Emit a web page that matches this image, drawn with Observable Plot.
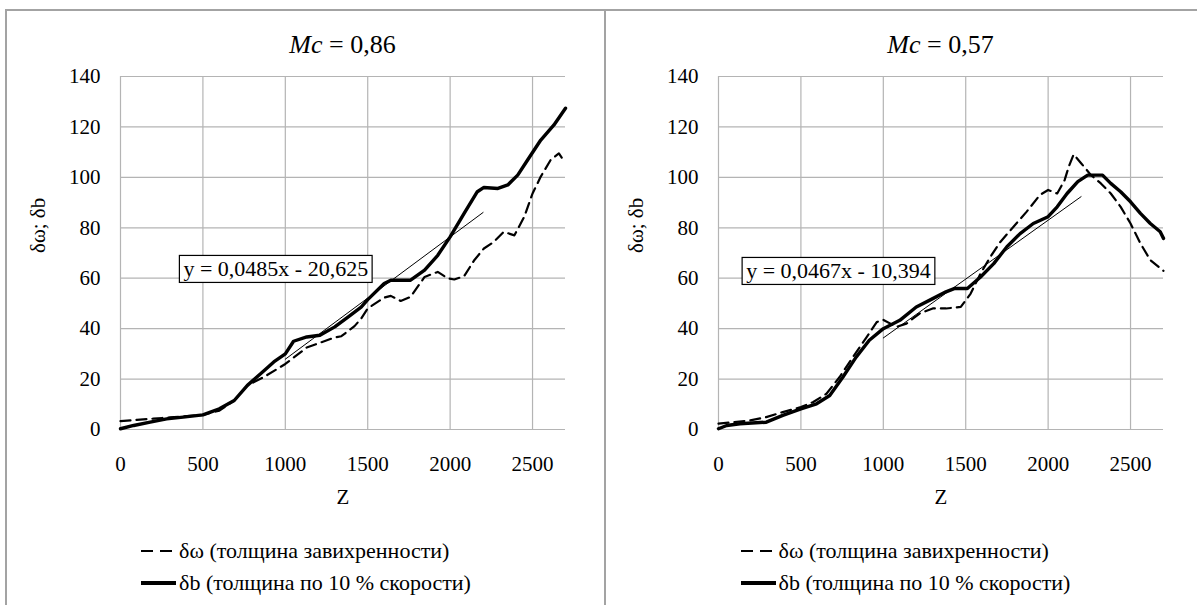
<!DOCTYPE html>
<html>
<head>
<meta charset="utf-8">
<script src="https://cdn.jsdelivr.net/npm/d3@7"></script>
<script src="https://cdn.jsdelivr.net/npm/@observablehq/plot@0.6"></script>
<style>
  body { margin: 0; background: #fff; }
  #root { position: relative; width: 1197px; height: 605px; overflow: hidden; background: #fff; }
  .bline { position: absolute; background: #a3a3a3; z-index: 10; }
  .ttl { position: absolute; font-size: 26px; line-height: 1; text-align: center; width: 300px; color: #000; white-space: nowrap; }
  .lgd { position: absolute; display: flex; justify-content: center; font-size: 22px; color: #000; }
  .lgd .row { display: flex; align-items: center; height: 32px; white-space: nowrap; }
  .lgd svg { display: block; margin-right: 3px; }
</style>
</head>
<body>
<div id="root" style='font-family:"Liberation Serif"'></div>
<script>
// ---- shared axis data ----
const zTicks = [0, 500, 1000, 1500, 2000, 2500];
const yTicks = [0, 20, 40, 60, 80, 100, 120, 140];
const yLabel = "δω; δb";
const xLabel = "Z";
const titles = ["0,86", "0,57"];
const legendLabels = ["δω (толщина завихренности)", "δb (толщина по 10 % скорости)"];

// ---- left panel (Mc = 0,86) ----
const leftOmegaZ = [0, 100, 200, 300, 400, 500, 600, 690, 770, 870, 1000, 1130, 1300, 1340, 1420, 1460, 1500, 1600, 1640, 1700, 1760, 1845, 1925, 1985, 2025, 2085, 2145, 2205, 2265, 2325, 2390, 2450, 2500, 2550, 2610, 2660, 2690];
const leftOmegaV = [3.3, 3.8, 4.3, 4.8, 5.3, 5.8, 7.5, 11.5, 17.5, 20.8, 26, 32.5, 36.5, 37, 41, 44, 48, 52.3, 53, 51, 52.6, 60.5, 62.5, 60, 59.5, 60.8, 67, 71.8, 74.4, 78.4, 77, 84.4, 93.6, 100.3, 106.9, 109.5, 106.5];
const leftBZ = [0, 80, 180, 280, 380, 500, 600, 690, 770, 850, 930, 1000, 1050, 1130, 1210, 1300, 1380, 1460, 1500, 1600, 1640, 1700, 1760, 1845, 1925, 2000, 2085, 2165, 2205, 2290, 2350, 2410, 2470, 2550, 2630, 2700];
const leftBV = [0.3, 1.6, 2.9, 4.2, 4.9, 5.8, 8.2, 11.5, 17.5, 22.1, 26.8, 30, 35, 36.7, 37.4, 40.7, 44.6, 48.5, 51.5, 57.9, 59.2, 59.2, 59.2, 63.2, 69.1, 76.4, 85.7, 94.3, 96, 95.6, 97, 100.9, 106.9, 114.8, 120.8, 127.4];

// ---- right panel (Mc = 0,57) ----
const rightOmegaZ = [0, 90, 190, 290, 390, 500, 575, 655, 735, 815, 900, 960, 1000, 1080, 1140, 1220, 1300, 1380, 1470, 1530, 1590, 1650, 1710, 1790, 1870, 1950, 2000, 2055, 2100, 2125, 2155, 2200, 2260, 2320, 2380, 2440, 2500, 2560, 2620, 2700];
const rightOmegaV = [2.3, 2.9, 3.6, 4.9, 6.9, 8.9, 10.9, 14.2, 20.8, 28.7, 36.7, 42.6, 43.5, 40.7, 42, 46, 48, 48, 48.6, 53.9, 61.9, 68.5, 74.4, 80.4, 86.4, 93, 95, 93.6, 98.9, 104.2, 109.1, 105.6, 100.9, 97.6, 93.6, 88.3, 81.7, 73.8, 67.2, 62.9];
const rightBZ = [0, 50, 130, 290, 390, 500, 595, 675, 755, 835, 915, 1000, 1100, 1200, 1300, 1380, 1430, 1510, 1590, 1670, 1750, 1830, 1910, 2000, 2055, 2115, 2180, 2240, 2330, 2380, 2440, 2500, 2560, 2620, 2680, 2700];
const rightBV = [0.3, 1.6, 2.3, 2.9, 5.6, 8.2, 10.2, 13.5, 20.8, 28.7, 35.4, 40, 43.3, 48.6, 51.9, 54.6, 55.9, 55.9, 60.5, 65.8, 72.5, 77.7, 81.7, 84.4, 88.3, 93.6, 98.3, 100.9, 100.9, 97.6, 94.3, 90.3, 85.7, 81.7, 78.4, 75.8];

// ---- trendlines (Excel linear fits) and their labels ----
const trendSlope = [0.0485, 0.0467];
const trendIntercept = [-20.625, -10.394];
const trendRange = [1000, 2200];
const trendLabels = ["y = 0,0485x - 20,625", "y = 0,0467x - 10,394"];
const labelZ = [942, 728];
const labelV = [63.5, 62.7];

const root = document.getElementById("root");

function rows(zs, vs) { return zs.map((z, i) => ({z, v: vs[i]})); }

function makePanel(i, omega, b, layout) {
  const trend = trendRange.map(z => ({z, v: trendSlope[i] * z + trendIntercept[i]}));
  const svg = Plot.plot({
    width: layout.width,
    height: 470,
    marginLeft: layout.ml,
    marginRight: layout.mr,
    marginTop: 16,
    marginBottom: 101,
    x: {domain: [0, 2700]},
    y: {domain: [0, 140]},
    style: {fontFamily: "serif", fontSize: "21px", color: "#000", background: "transparent", overflow: "visible"},
    marks: [
      Plot.gridX(zTicks, {stroke: "#b4b4b4", strokeOpacity: 1, strokeWidth: 1.2}),
      Plot.gridY(yTicks, {stroke: "#b4b4b4", strokeOpacity: 1, strokeWidth: 1.2}),
      Plot.axisX(zTicks, {tickSize: 0, tickPadding: 27, label: null, tickFormat: d => String(d), fontSize: 21}),
      Plot.axisY(yTicks, {tickSize: 0, tickPadding: 20, label: null, fontSize: 21}),
      Plot.line(trend, {x: "z", y: "v", stroke: "#000", strokeWidth: 1}),
      Plot.line(omega, {x: "z", y: "v", stroke: "#000", strokeWidth: 2.2, strokeDasharray: "10,6"}),
      Plot.line(b, {x: "z", y: "v", stroke: "#000", strokeWidth: 3.4}),
      Plot.text([yLabel], {frameAnchor: "left", dx: -82, rotate: -90, fontSize: 21, fill: "#000"}),
      Plot.text([xLabel], {frameAnchor: "bottom", dy: 74, fontSize: 21, fill: "#000"}),
      Plot.text([trendLabels[i]], {x: () => labelZ[i], y: () => labelV[i], fontSize: 22, fill: "#000"})
    ]
  });
  svg.style.position = "absolute";
  svg.style.left = layout.left + "px";
  svg.style.top = "60px";
  svg.style.maxWidth = "none";
  root.appendChild(svg);
  // box around the trendline equation
  svg.querySelectorAll("text").forEach(t => {
    if (t.textContent.startsWith("y =")) {
      const bb = t.getBBox();
      const r = document.createElementNS("http://www.w3.org/2000/svg", "rect");
      r.setAttribute("x", bb.x - 4);
      r.setAttribute("y", bb.y - 1);
      r.setAttribute("width", bb.width + 8);
      r.setAttribute("height", bb.height + 2);
      r.setAttribute("fill", "#fff");
      r.setAttribute("stroke", "#000");
      r.setAttribute("stroke-width", "1.2");
      if (t.getAttribute("transform")) r.setAttribute("transform", t.getAttribute("transform"));
      t.parentNode.insertBefore(r, t);
    }
  });

  // title
  const title = document.createElement("div");
  title.className = "ttl";
  title.innerHTML = "<i>Mc</i> = " + titles[i];
  title.style.left = (layout.left + layout.ml + (layout.width - layout.ml - layout.mr) / 2 - 150) + "px";
  title.style.top = "32px";
  root.appendChild(title);

  // legend
  const leg = document.createElement("div");
  leg.className = "lgd";
  leg.style.left = layout.panelLeft + "px";
  leg.style.width = layout.panelWidth + "px";
  leg.style.top = "535px";
  leg.innerHTML =
    '<div>' +
    '<div class="row"><svg width="36" height="10"><line x1="1" y1="5" x2="13" y2="5" stroke="#000" stroke-width="2"/><line x1="20" y1="5" x2="32" y2="5" stroke="#000" stroke-width="2"/></svg><span>' + legendLabels[0] + '</span></div>' +
    '<div class="row"><svg width="36" height="10"><line x1="1" y1="5" x2="36" y2="5" stroke="#000" stroke-width="4"/></svg><span>' + legendLabels[1] + '</span></div>' +
    '</div>';
  root.appendChild(leg);
}

makePanel(0, rows(leftOmegaZ, leftOmegaV), rows(leftBZ, leftBV), {left: 0, width: 600, ml: 120, mr: 35, panelLeft: 6, panelWidth: 599});
makePanel(1, rows(rightOmegaZ, rightOmegaV), rows(rightBZ, rightBV), {left: 600, width: 597, ml: 118, mr: 34, panelLeft: 605, panelWidth: 600});

// panel borders
[[5, 9, 1192, 2], [5, 9, 2, 600], [604, 9, 2, 600]].forEach(([l, t, w, h]) => {
  const d = document.createElement("div");
  d.className = "bline";
  Object.assign(d.style, {left: l + "px", top: t + "px", width: w + "px", height: h + "px"});
  root.appendChild(d);
});
</script>
</body>
</html>
